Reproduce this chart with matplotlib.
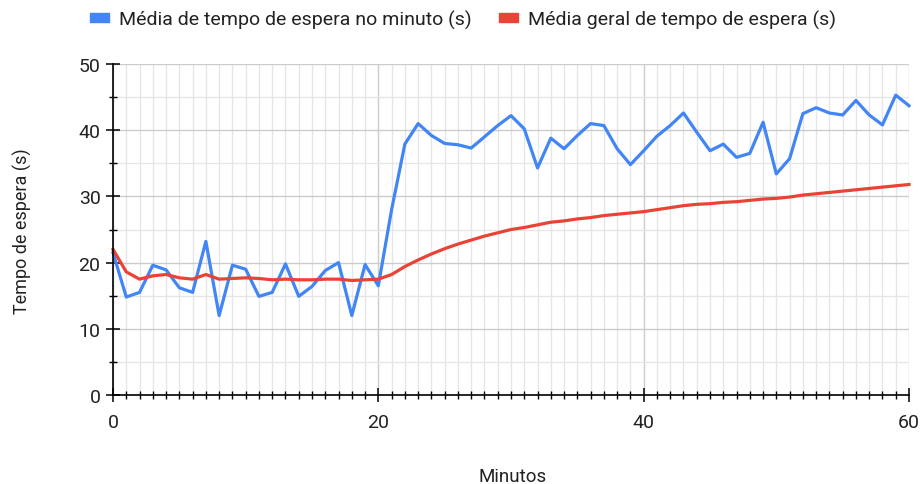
import matplotlib
matplotlib.use("Agg")
import matplotlib.pyplot as plt
import matplotlib.patches as mpatches
from matplotlib.ticker import MultipleLocator

minutes = list(range(61))
media_minuto = [21.5, 14.8, 15.5, 19.6, 18.9, 16.2, 15.5, 23.2, 12.0, 19.6,
                19.0, 14.9, 15.5, 19.8, 14.9, 16.4, 18.8, 20.0, 12.0, 19.7,
                16.5, 28.0, 37.9, 41.0, 39.2, 38.0, 37.8, 37.3, 39.0, 40.7,
                42.2, 40.2, 34.3, 38.8, 37.2, 39.2, 41.0, 40.7, 37.2, 34.8,
                36.9, 39.1, 40.7, 42.6, 39.7, 36.9, 37.9, 35.9, 36.5, 41.2,
                33.4, 35.7, 42.5, 43.4, 42.6, 42.3, 44.5, 42.3, 40.8, 45.3,
                43.7]
media_geral = [22.0, 18.6, 17.5, 18.0, 18.2, 17.7, 17.5, 18.2, 17.5, 17.6,
               17.7, 17.6, 17.4, 17.5, 17.4, 17.4, 17.5, 17.5, 17.3, 17.4,
               17.5, 18.2, 19.4, 20.4, 21.3, 22.1, 22.8, 23.4, 24.0, 24.5,
               25.0, 25.3, 25.7, 26.1, 26.3, 26.6, 26.8, 27.1, 27.3, 27.5,
               27.7, 28.0, 28.3, 28.6, 28.8, 28.9, 29.1, 29.2, 29.4, 29.6,
               29.7, 29.9, 30.2, 30.4, 30.6, 30.8, 31.0, 31.2, 31.4, 31.6,
               31.8]
serie_labels = ["Média de tempo de espera no minuto (s)",
                "Média geral de tempo de espera (s)"]

plt.rcParams['font.family'] = ['Roboto', 'DejaVu Sans']

fig = plt.figure(figsize=(9.22, 4.85), dpi=100)
ax = fig.add_axes([113/922, 1-396/485, (909-113)/922, (396-65)/485])

blue = '#4285F4'
red = '#EA4335'
ax.plot(minutes, media_minuto, color=blue, lw=2.3, solid_joinstyle='round', zorder=3, clip_on=False)
ax.plot(minutes, media_geral, color=red, lw=2.3, solid_joinstyle='round', zorder=4, clip_on=False)

ax.set_xlim(0, 60)
ax.set_ylim(0, 50)
ax.xaxis.set_major_locator(MultipleLocator(20))
ax.xaxis.set_minor_locator(MultipleLocator(1))
ax.yaxis.set_major_locator(MultipleLocator(10))
ax.yaxis.set_minor_locator(MultipleLocator(5))

ax.grid(which='major', color='#cccccc', lw=1.0, zorder=0)
ax.grid(which='minor', color='#e6e6e6', lw=1.0, zorder=0)
ax.set_axisbelow(True)

for s in ['top', 'right']:
    ax.spines[s].set_visible(False)
for s in ['left', 'bottom']:
    ax.spines[s].set_color('#000000')
    ax.spines[s].set_linewidth(1.2)
    ax.spines[s].set_zorder(5)

ax.tick_params(which='major', direction='inout', length=10, width=1.1, color='black',
               labelsize=14, labelcolor='#222222')
ax.tick_params(which='minor', direction='inout', length=6, width=1.0, color='black')
ax.tick_params(axis='x', which='major', pad=8)
ax.tick_params(axis='y', which='major', pad=4)

fig.text(513/922, 1-477/485, "Minutos", ha='center', va='center', fontsize=13.5, color='#222222')
fig.text(22/922, 1-231/485, "Tempo de espera (s)", ha='center', va='center', rotation=90,
         fontsize=13, color='#222222')

handles = [mpatches.Patch(color=blue, label=serie_labels[0]),
           mpatches.Patch(color=red, label=serie_labels[1])]
leg = fig.legend(handles=handles, loc='center', bbox_to_anchor=(463/922, 1-20/485), ncol=2,
                 frameon=False, fontsize=14, handlelength=1.0, handleheight=0.35,
                 handletextpad=0.5, columnspacing=1.4)
for t in leg.get_texts():
    t.set_color('#222222')

fig.savefig("out.png", dpi=100)
